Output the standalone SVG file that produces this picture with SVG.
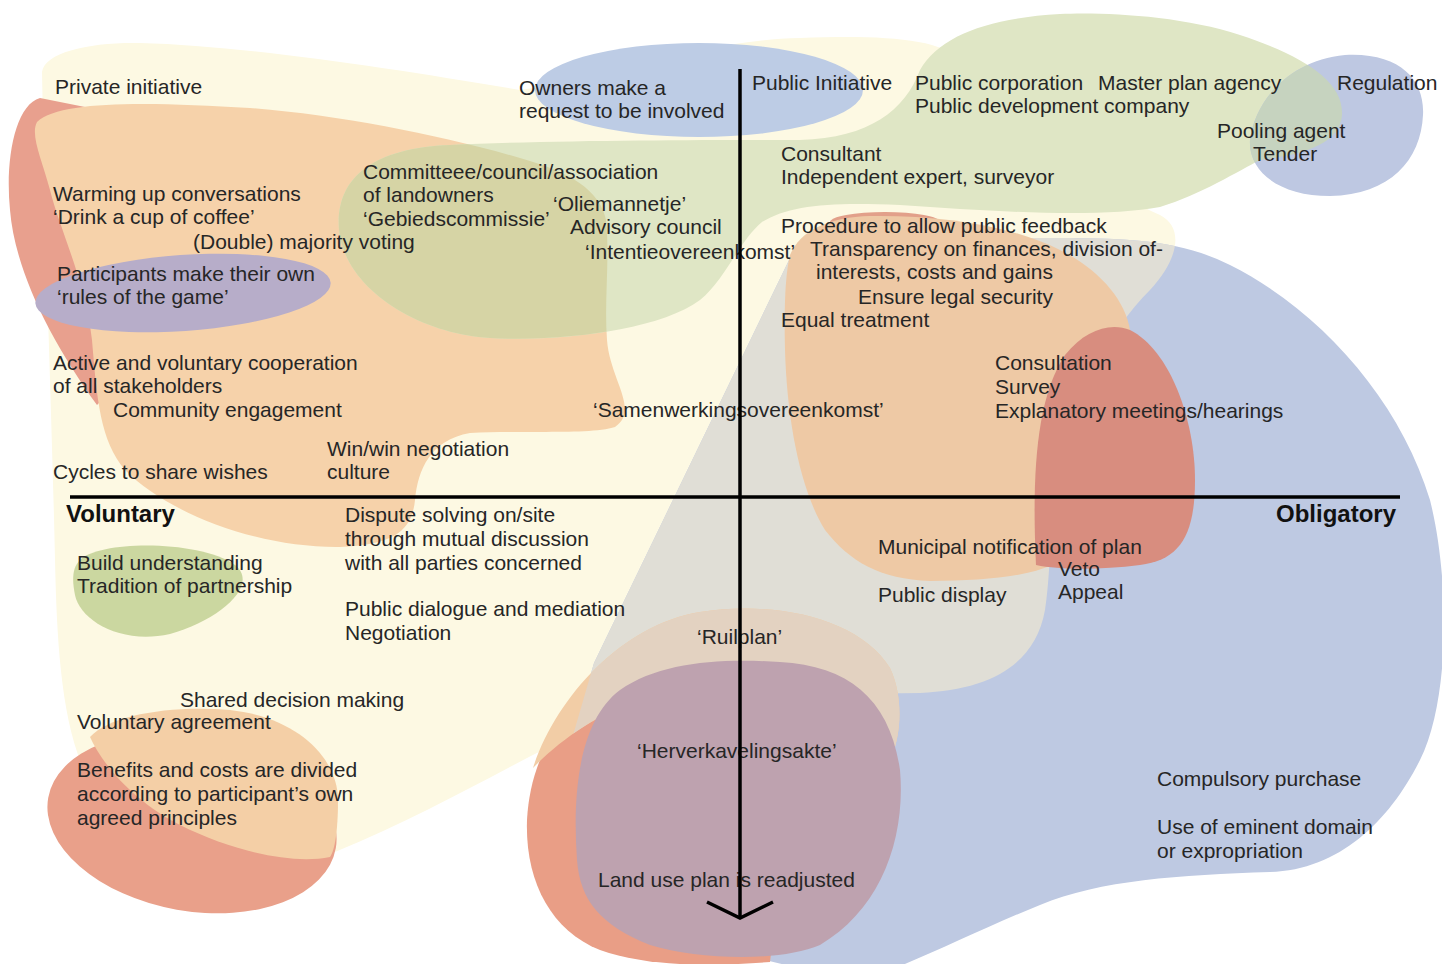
<svg xmlns="http://www.w3.org/2000/svg" xmlns:xlink="http://www.w3.org/1999/xlink" width="1442" height="964" viewBox="0 0 1442 964">
<style>
text{font-family:"Liberation Sans",Arial,sans-serif;font-size:21px;fill:#262626}
.b{font-weight:bold;font-size:24px;fill:#111}
.ax{stroke:#000;stroke-width:3.5;fill:none}
</style>
<defs>
<path id="cream" d="M42,72 C45,52 90,42 140,43 C250,46 400,70 520,90 C600,80 700,40 800,38 C880,35 940,38 960,60 C1000,110 1100,190 1160,215 C1185,228 1178,260 1150,290 C1110,330 1070,400 1058,470 C1050,530 1050,580 1045,610 C1035,665 990,690 920,693 C820,695 700,690 620,715 C540,745 450,805 335,852 C250,875 140,850 95,790 C62,740 57,650 55,560 C52,420 45,250 42,72 Z"/>
<path id="orangeL" d="M37,122 C60,100 150,102 250,108 C340,115 440,135 520,158 C570,172 600,190 606,220 C610,260 604,300 607,340 C610,380 640,410 615,427 C590,435 520,430 470,433 C430,440 418,470 415,500 C412,530 395,545 340,547 C260,548 170,515 125,470 C100,440 97,400 92,340 C85,280 60,230 50,190 C42,160 30,135 37,122 Z"/>
<path id="green" d="M1060,14 C1100,12 1180,15 1240,35 C1300,55 1344,80 1342,115 C1340,145 1300,155 1260,160 C1240,170 1200,195 1160,207 C1100,218 1000,212 900,205 C830,202 790,205 762,222 C740,240 725,280 700,300 C660,330 560,342 490,338 C420,334 345,290 339,230 C335,180 370,148 450,145 C560,140 700,140 800,140 C870,138 905,110 920,70 C940,35 990,18 1060,14 Z"/>
<path id="regul" d="M1250,140 C1255,100 1290,60 1345,55 C1400,52 1425,80 1423,115 C1421,160 1390,195 1330,196 C1280,196 1248,172 1250,140 Z"/>
<path id="blue" d="M790,258 C830,240 950,238 1050,238 C1130,238 1180,240 1230,265 C1320,310 1400,400 1430,500 C1450,580 1450,700 1420,760 C1390,820 1340,870 1270,872 C1180,875 1100,880 1040,905 C990,925 940,950 900,966 L790,966 L640,930 L585,860 L560,780 L594,663 Z"/>
<path id="orangeB" d="M533,768 C555,700 620,625 700,612 C780,600 860,620 890,668 C905,700 900,740 890,760 L640,700 C600,712 560,740 533,768 Z"/>
<clipPath id="cCream"><use xlink:href="#cream"/></clipPath>
<clipPath id="cOrangeL"><use xlink:href="#orangeL"/></clipPath>
<clipPath id="cGreen"><use xlink:href="#green"/></clipPath>
<clipPath id="cBlue"><use xlink:href="#blue"/></clipPath>
</defs>

<g id="blobs">
<use id="blob-private" xlink:href="#cream" fill="#FDF9E3"/>
<path id="blob-red-left" d="M40,98 C15,105 5,160 10,210 C15,270 50,340 97,405 L200,300 L200,130 Z" fill="#E8A08E"/>
<use id="blob-orange-left" xlink:href="#orangeL" fill="#F6D2AA"/>
<use id="blob-public" xlink:href="#green" fill="#DFE6C5"/>
<g clip-path="url(#cOrangeL)"><use xlink:href="#green" fill="#D6D4A5"/></g>
<ellipse id="blob-rules" cx="183" cy="293" rx="148" ry="38" transform="rotate(-4 183 293)" fill="#B7ADC9"/>
<ellipse id="blob-owners" cx="699" cy="90" rx="164" ry="47" fill="#BDCCE5"/>
<use id="blob-regulation" xlink:href="#regul" fill="#BEC8E2"/>
<g clip-path="url(#cGreen)"><use xlink:href="#regul" fill="#C6D3BF"/></g>
<use id="blob-obligatory" xlink:href="#blue" fill="#BEC9E2"/>
<g clip-path="url(#cCream)"><use xlink:href="#blue" fill="#E0DED6"/></g>
<ellipse id="blob-red-tip" cx="885" cy="222" rx="55" ry="10" fill="#E2A08A"/>
<path id="blob-orange-right" d="M790,255 C800,230 830,217 870,216 C940,215 1010,225 1060,250 C1100,270 1125,300 1130,330 L1060,560 C1040,575 990,581 930,581 C880,579 850,562 825,530 C800,490 787,420 785,350 C784,310 785,275 790,255 Z" fill="#EEC9A5"/>
<path id="blob-red-right" d="M1036,565 C1032,480 1035,400 1065,355 C1085,330 1110,322 1130,330 C1170,350 1195,420 1195,480 C1195,535 1180,560 1140,565 C1100,570 1060,570 1036,565 Z" fill="#D88D7F"/>
<path id="blob-red-bottom" d="M600,690 C560,710 530,760 527,820 C525,880 550,930 600,950 C650,968 720,966 770,962 L800,700 Z" fill="#E99E86"/>
<use id="blob-orange-bottom" xlink:href="#orangeB" fill="#F2CDA6"/>
<g clip-path="url(#cBlue)"><use xlink:href="#orangeB" fill="#E3D2C1"/></g>
<path id="blob-mauve" d="M577,860 C572,790 580,720 620,690 C660,662 720,658 780,662 C850,666 890,700 900,770 C906,840 880,910 820,945 C780,962 700,960 650,945 C600,925 580,900 577,860 Z" fill="#BEA2AF"/>
<ellipse id="blob-red-benefits" cx="192" cy="823" rx="146" ry="88" transform="rotate(10 192 823)" fill="#E9A08A"/>
<path id="blob-orange-benefits" d="M90,737 C110,715 170,705 230,710 C300,718 338,760 338,800 C338,830 335,850 330,857 C290,865 230,850 180,825 C140,805 105,770 90,737 Z" fill="#F4CFA6"/>
<path id="blob-green-understanding" d="M80,560 C100,540 200,540 235,565 C260,585 220,620 170,634 C120,645 80,620 75,595 C72,580 72,568 80,560 Z" fill="#CBD7A0"/>
</g>

<g id="labels">
<text x="55" y="94">Private initiative</text>
<text x="519" y="95">Owners make a</text>
<text x="519" y="118">request to be involved</text>
<text x="752" y="90">Public Initiative</text>
<text x="915" y="90">Public corporation</text>
<text x="1098" y="90">Master plan agency</text>
<text x="1337" y="90">Regulation</text>
<text x="915" y="113">Public development company</text>
<text x="1217" y="138">Pooling agent</text>
<text x="1253" y="161">Tender</text>
<text x="781" y="161">Consultant</text>
<text x="781" y="184">Independent expert, surveyor</text>
<text x="363" y="179">Committeee/council/association</text>
<text x="363" y="202">of landowners</text>
<text x="363" y="226">‘Gebiedscommissie’</text>
<text x="53" y="201">Warming up conversations</text>
<text x="53" y="224">‘Drink a cup of coffee’</text>
<text x="553" y="211">‘Oliemannetje’</text>
<text x="570" y="234">Advisory council</text>
<text x="585" y="259">‘Intentieovereenkomst’</text>
<text x="193" y="249">(Double) majority voting</text>
<text x="781" y="233">Procedure to allow public feedback</text>
<text x="810" y="256">Transparency on finances, division of-</text>
<text x="816" y="279">interests, costs and gains</text>
<text x="858" y="304">Ensure legal security</text>
<text x="781" y="327">Equal treatment</text>
<text x="57" y="281">Participants make their own</text>
<text x="57" y="304">‘rules of the game’</text>
<text x="53" y="370">Active and voluntary cooperation</text>
<text x="53" y="393">of all stakeholders</text>
<text x="113" y="417">Community engagement</text>
<text x="995" y="370">Consultation</text>
<text x="995" y="394">Survey</text>
<text x="995" y="418">Explanatory meetings/hearings</text>
<text x="593" y="417">‘Samenwerkingsovereenkomst’</text>
<text x="327" y="456">Win/win negotiation</text>
<text x="327" y="479">culture</text>
<text x="53" y="479">Cycles to share wishes</text>
<text class="b" x="66" y="522">Voluntary</text>
<text class="b" x="1276" y="522">Obligatory</text>
<text x="345" y="522">Dispute solving on/site</text>
<text x="345" y="546">through mutual discussion</text>
<text x="345" y="570">with all parties concerned</text>
<text x="77" y="570">Build understanding</text>
<text x="77" y="593">Tradition of partnership</text>
<text x="878" y="554">Municipal notification of plan</text>
<text x="1058" y="576">Veto</text>
<text x="1058" y="599">Appeal</text>
<text x="878" y="602">Public display</text>
<text x="345" y="616">Public dialogue and mediation</text>
<text x="345" y="640">Negotiation</text>
<text x="697" y="644">‘Ruilplan’</text>
<text x="180" y="707">Shared decision making</text>
<text x="77" y="729">Voluntary agreement</text>
<text x="637" y="758">‘Herverkavelingsakte’</text>
<text x="77" y="777">Benefits and costs are divided</text>
<text x="77" y="801">according to participant’s own</text>
<text x="77" y="825">agreed principles</text>
<text x="1157" y="786">Compulsory purchase</text>
<text x="1157" y="834">Use of eminent domain</text>
<text x="1157" y="858">or expropriation</text>
<text x="598" y="887">Land use plan is readjusted</text>
</g>

<g id="axes">
<line class="ax" x1="70" y1="497" x2="1400" y2="497"/>
<line class="ax" x1="740" y1="69" x2="740" y2="916"/>
<polyline class="ax" points="707,902 740,918 773,902"/>
</g>
</svg>
